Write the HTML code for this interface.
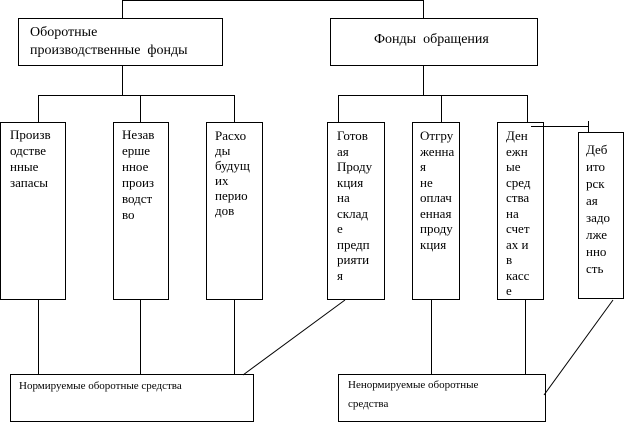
<!DOCTYPE html>
<html><head><meta charset="utf-8"><style>
body{margin:0;background:#fff;width:624px;height:423px;overflow:hidden;position:relative;font-family:"Liberation Serif","DejaVu Serif",serif;}
svg{position:absolute;left:0;top:0}
.t{position:absolute;font-size:13px;line-height:15.5px;color:#000;white-space:nowrap}
.s{position:absolute;font-size:11px;line-height:20px;color:#000;white-space:nowrap}
</style></head><body>
<svg width="624" height="423" viewBox="0 0 624 423">
<g stroke="#000" stroke-width="1" fill="none" shape-rendering="crispEdges">
<path d="M122.5 19V0.5H423.5V19"/>
<rect x="18.5" y="18.5" width="204" height="47" fill="#fff"/>
<rect x="330.5" y="18.5" width="207" height="47" fill="#fff"/>
<path d="M122.5 66V95.5M38.5 123V95.5H234.5V123M140.5 95.5V123"/>
<path d="M423.5 66V95.5M338.5 123V95.5H527.5V123M441.5 95.5V123"/>
<rect x="0.5" y="122.5" width="65" height="177"/>
<rect x="113.5" y="122.5" width="55" height="177"/>
<rect x="206.5" y="122.5" width="56" height="177"/>
<rect x="327.5" y="122.5" width="57" height="177"/>
<rect x="412.5" y="122.5" width="47" height="177"/>
<rect x="497.5" y="122.5" width="46" height="177"/>
<rect x="578.5" y="132.5" width="45" height="166"/>
<path d="M531 126.5H588.5M588.5 121V132"/>
<path d="M38.5 300V374M140.5 300V374M234.5 300V374M431.5 300V374M525.5 300V374"/>
<rect x="10.5" y="374.5" width="243" height="47"/>
<rect x="338.5" y="374.5" width="207" height="47"/>
</g>
<g stroke="#000" stroke-width="1" fill="none">
<path d="M345 300L243 375M613 300L544 395"/>
</g>
</svg>
<div class="t" style="left:30px;top:24px;font-size:14px;line-height:18px">Оборотные<br>производственные&nbsp; фонды</div>
<div class="t" style="left:374px;top:31px;font-size:14px;line-height:18px">Фонды&nbsp; обращения</div>
<div class="t" style="left:10px;top:127px;line-height:16px">Произв<br>одстве<br>нные<br>запасы</div>
<div class="t" style="left:122px;top:127px;line-height:16px">Незав<br>ерше<br>нное<br>произ<br>водст<br>во</div>
<div class="t" style="left:215px;top:128px;line-height:15px">Расхо<br>ды<br>будущ<br>их<br>перио<br>дов</div>
<div class="t" style="left:337px;top:128px">Готов<br>ая<br>Проду<br>кция<br>на<br>склад<br>е<br>предп<br>рияти<br>я</div>
<div class="t" style="left:420px;top:128px">Отгру<br>женна<br>я<br>не<br>оплач<br>енная<br>проду<br>кция</div>
<div class="t" style="left:506px;top:128px">Ден<br>ежн<br>ые<br>сред<br>ства<br>на<br>счет<br>ах и<br>в<br>касс<br>е</div>
<div class="t" style="left:586px;top:141px;line-height:17px">Деб<br>ито<br>рск<br>ая<br>задо<br>лже<br>нно<br>сть</div>
<div class="s" style="left:19px;top:376px">Нормируемые оборотные средства</div>
<div class="s" style="left:348px;top:376px;line-height:19px">Ненормируемые оборотные<br>средства</div>
</body></html>
